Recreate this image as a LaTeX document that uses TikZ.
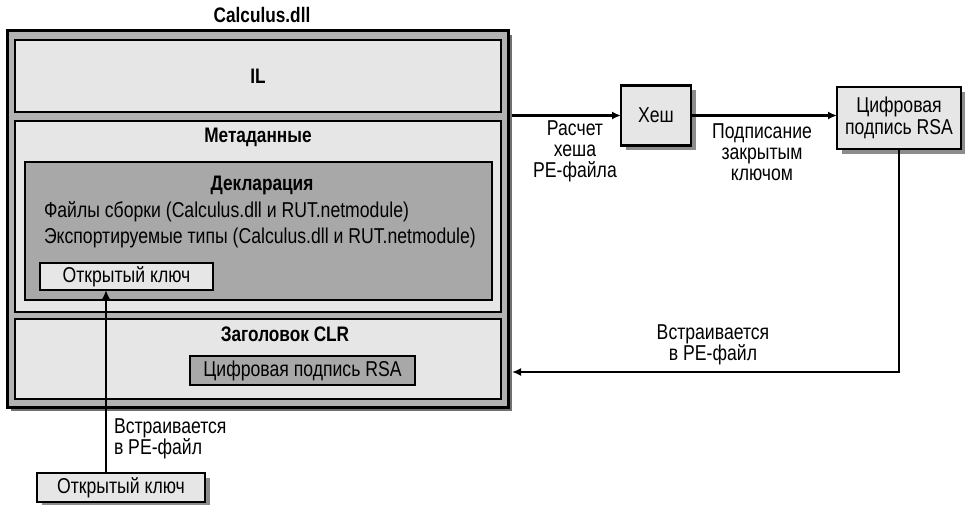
\documentclass[tikz,border=0pt]{standalone}
\usepackage{fontspec}
\setmainfont{Liberation Sans}[FakeStretch=0.82]
\usetikzlibrary{arrows.meta,shadows}
\definecolor{ringgray}{HTML}{B2B2B2}
\definecolor{lightgray}{HTML}{E6E6E6}
\definecolor{midgray}{HTML}{A8A8A8}
\definecolor{shadowgray}{HTML}{707070}
\definecolor{softshadow}{HTML}{8C8C8C}
\begin{document}
\begin{tikzpicture}[x=1pt,y=-1pt,
  every node/.style={font=\fontsize{21.5}{22}\selectfont, inner sep=0pt, outer sep=0pt},
  panel/.style={draw, line width=2.6pt, rectangle},
  shade/.style={drop shadow={shadow xshift=4pt, shadow yshift=-4pt, fill=shadowgray, opacity=1}},
  softshade/.style={drop shadow={shadow xshift=5pt, shadow yshift=-5pt, fill=softshadow, opacity=1}},
  flow/.style={line width=2.2pt, -{Latex[length=9pt,width=8pt]}},
  title/.style={font=\fontsize{21}{22}\selectfont\bfseries},
  note/.style={align=center, font=\fontsize{21.5}{21}\selectfont}
]
\useasboundingbox (0,0) rectangle (965,505);

% assembly file and its sections
\node[title] (dll) at (262,15) {Calculus.dll};
\node[panel, shade, fill=ringgray, line width=3pt, minimum width=501pt, minimum height=376pt] (outer) at (257.5,219) {};
\node[panel, fill=lightgray, minimum width=486pt, minimum height=72pt] (il) at (258,76) {};
\node[title] at (il.center) {IL};

\node[panel, fill=lightgray, minimum width=486pt, minimum height=191pt] (meta) at (258,216.5) {};
\node[title] (metat) at (258,137) {Метаданные};
\node[panel, fill=midgray, minimum width=467pt, minimum height=138pt] (decl) at (258.5,231) {};
\node[title] (declt) at (262,185) {Декларация};
\node[anchor=west] (files) at (44,212) {Файлы сборки (Calculus.dll и RUT.netmodule)};
\node[anchor=west] (types) at (44,238) {Экспортируемые типы (Calculus.dll и RUT.netmodule)};
\node[panel, fill=lightgray, minimum width=173pt, minimum height=27pt] (ikey) at (126.5,276.5) {Открытый ключ};

\node[panel, fill=lightgray, minimum width=486pt, minimum height=80pt] (clr) at (258,359) {};
\node[title] (clrt) at (285,334) {Заголовок CLR};
\node[panel, fill=midgray, minimum width=225pt, minimum height=29pt] (isig) at (302.5,370.5) {Цифровая подпись RSA};

% signing chain
\node[panel, softshade, fill=lightgray, minimum width=70pt, minimum height=60pt] (hash) at (656,115.5) {Хеш};
\node[panel, softshade, fill=lightgray, minimum width=124pt, minimum height=62pt, align=center] (rsa) at (899,118) {Цифровая\\подпись RSA};
\node[panel, softshade, fill=lightgray, minimum width=168pt, minimum height=29pt] (bkey) at (121,487.5) {Открытый ключ};

\coordinate (embedY) at (0,372);
\coordinate (keyX) at (106,0);

\draw[flow] ([xshift=4pt]outer.east |- hash.west) -- (hash.west);
\draw[flow] (hash.east) -- (hash.east -| rsa.west);
\draw[flow] (rsa.south) |- ([xshift=4pt]outer.east |- embedY);
\draw[flow] (bkey.north -| keyX) -- (ikey.south -| keyX);

\node[note] (calc) at (575,151) {Расчет\\хеша\\PE-файла};
\node[note] (sign) at (762,152) {Подписание\\закрытым\\ключом};
\node[note] (embed1) at (713,345) {Встраивается\\в PE-файл};
\node[note, align=left, anchor=west] (embed2) at (114,439) {Встраивается\\в PE-файл};
\end{tikzpicture}
\end{document}
